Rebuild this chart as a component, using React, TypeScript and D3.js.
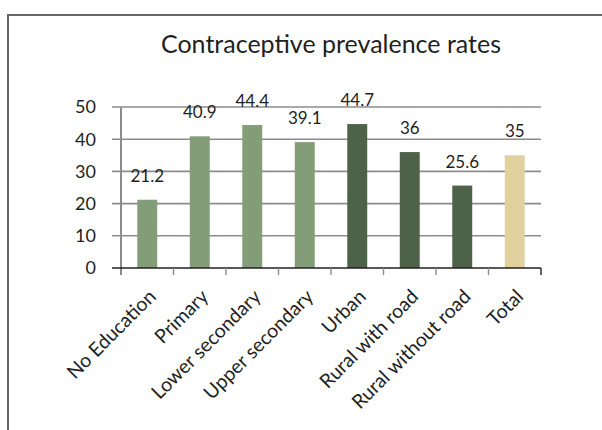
import * as d3 from "d3";

const categories = [
  "No Education", "Primary", "Lower secondary", "Upper secondary",
  "Urban", "Rural with road", "Rural without road", "Total",
];
const values = [21.2, 40.9, 44.4, 39.1, 44.7, 36, 25.6, 35];
const groups = ["edu", "edu", "edu", "edu", "area", "area", "area", "total"];
const yTicks = [0, 10, 20, 30, 40, 50];

const W = 602, H = 430;
const FONT = "Lato, 'Open Sans', sans-serif";
const INK = "#231f20";
const GRID = "#8c8c8c";
const fill: Record<string, string> = { edu: "#849d79", area: "#4d6249", total: "#e0d19f" };

export default function App() {
  const x = d3.scaleBand<string>().domain(categories).range([121, 541]).padding(0);
  const y = d3.scaleLinear().domain([0, 50]).range([268, 107]);
  const bw = x.bandwidth() * 0.38;
  const x0 = x.range()[0], x1 = x.range()[1];

  return (
    <div>
      <style>{"body{margin:0}"}</style>
      <svg width={W} height={H} style={{ display: "block" }} fontFamily={FONT}>
        <rect width={W} height={H} fill="#fff" />
        {/* frame, runs off right and bottom */}
        <path d={`M8,${H + 2} V15 H${W + 2}`} fill="none" stroke="#666" strokeWidth={2} />

        <text x={331} y={53} textAnchor="middle" fontSize={25} fill={INK}>
          Contraceptive prevalence rates
        </text>

        {/* gridlines with left tick stubs */}
        {yTicks.filter((t) => t > 0).map((t) => (
          <line key={t} x1={x0 - 9} x2={x1} y1={y(t)} y2={y(t)} stroke={GRID} strokeWidth={1.6} />
        ))}
        {yTicks.map((t) => (
          <text key={t} x={96} y={y(t)} dy="0.36em" textAnchor="end" fontSize={18} fill={INK}>
            {t}
          </text>
        ))}
        <line x1={x0} x2={x0} y1={y(50)} y2={y(0) + 7} stroke={GRID} strokeWidth={2} />

        {categories.map((c, i) => (
          <rect key={c} x={(x(c) ?? 0) + (x.bandwidth() - bw) / 2} width={bw}
                y={y(values[i])} height={y(0) - y(values[i])} fill={fill[groups[i]]} />
        ))}

        {/* x axis */}
        <line x1={x0 - 9} x2={x1} y1={y(0)} y2={y(0)} stroke={INK} strokeWidth={1.5} />
        {categories.map((c) => (
          <line key={c} x1={(x(c) ?? 0) + x.bandwidth()} x2={(x(c) ?? 0) + x.bandwidth()}
                y1={y(0)} y2={y(0) + 7} stroke={c === "Total" ? INK : GRID} strokeWidth={1.4} />
        ))}

        {/* value labels */}
        {categories.map((c, i) => (
          <text key={c} x={(x(c) ?? 0) + x.bandwidth() / 2} y={y(values[i]) - 18}
                textAnchor="middle" fontSize={17} fill={INK}>
            {values[i]}
          </text>
        ))}

        {/* category labels */}
        {categories.map((c) => {
          const cx = (x(c) ?? 0) + x.bandwidth() / 2 + 5;
          const cy = y(0) + 25;
          return (
            <text key={c} transform={`translate(${cx},${cy}) rotate(-45)`} textAnchor="end"
                  dy="0.35em" fontSize={19.5} fill={INK}>
              {c}
            </text>
          );
        })}
      </svg>
    </div>
  );
}
